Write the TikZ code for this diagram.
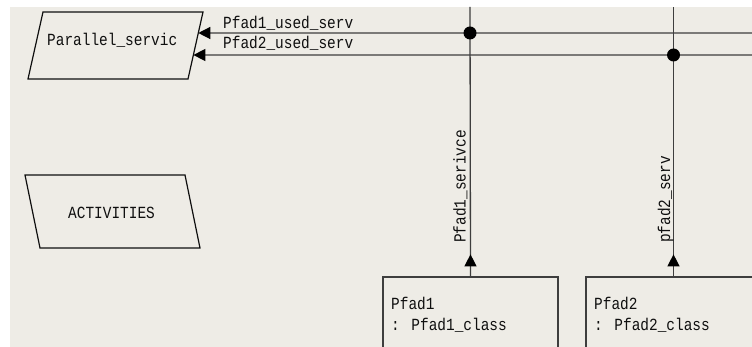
\documentclass[tikz,border=0pt]{standalone}
\usepackage{fontspec}
\newfontfamily\diafont[FakeStretch=0.85]{Liberation Mono}
\usetikzlibrary{calc,arrows.meta}
\definecolor{canvas}{RGB}{238,236,230}
\definecolor{wirecol}{RGB}{62,62,62}
\definecolor{ink}{RGB}{15,15,15}

\begin{document}
\begin{tikzpicture}[x=1pt,y=-1pt,
  lbl/.style={font=\diafont\fontsize{17}{21}\selectfont, text=ink, inner sep=0pt},
  wire/.style={draw=wirecol, line width=1.3pt},
  outline/.style={draw=ink, line width=1.2pt, line join=miter},
  headtip/.style={-{Triangle[length=12pt,width=12pt,color=black]}},
  junction/.style={fill=black},
  classbox/.style={draw=wirecol, line width=1.3pt, minimum width=175pt, minimum height=80pt, inner sep=0pt}
]
% page and canvas
\useasboundingbox (0,0) rectangle (752,347);
\fill[white] (0,0) rectangle (752,347);
\clip (0,0) rectangle (752,347);
\fill[canvas] (10,7) rectangle (752,347);

% Parallel_servic (parallelogram)
\coordinate (ps-tl) at (43,12);
\coordinate (ps-tr) at (203,12);
\coordinate (ps-br) at (188,79);
\coordinate (ps-bl) at (28,79);
\draw[outline] (ps-tl) -- (ps-tr) -- (ps-br) -- (ps-bl) -- cycle;
\node[lbl, anchor=base west] (ps) at (47,46) {Parallel\_servic};

% ACTIVITIES (parallelogram)
\coordinate (ac-tl) at (25,175);
\coordinate (ac-tr) at (185,175);
\coordinate (ac-br) at (200,248);
\coordinate (ac-bl) at (40,248);
\draw[outline] (ac-tl) -- (ac-tr) -- (ac-br) -- (ac-bl) -- cycle;
\node[lbl, anchor=base west] (ac) at (68,219) {ACTIVITIES};

% class instances
\node[classbox] (p1) at (470.5,317) {};
\node[classbox] (p2) at (673.5,317) {};
\node[lbl, anchor=base west] (p1name) at (391,309) {Pfad1};
\node[lbl, anchor=base west] (p1type) at (391,330) {: Pfad1\_class};
\node[lbl, anchor=base west] (p2name) at (594,309) {Pfad2};
\node[lbl, anchor=base west] (p2type) at (594,330) {: Pfad2\_class};

% connector end points
\coordinate (e1) at ($(ps-tr)!0.3134!(ps-br)$);
\coordinate (e2) at ($(ps-tr)!0.6418!(ps-br)$);
\coordinate (r1) at (752,33);
\coordinate (r2) at (752,55);
\coordinate (t1) at (470,7);
\coordinate (t2) at (673.5,7);
\coordinate (j1) at (470,33);
\coordinate (j2) at (673.5,55);

% horizontal flows into Parallel_servic
\draw[wire, headtip] (r1) -- (e1);
\draw[wire, headtip] (r2) -- (e2);
\node[lbl, anchor=base west] (l1) at (223,29) {Pfad1\_used\_serv};
\node[lbl, anchor=base west] (l2) at (223,49) {Pfad2\_used\_serv};

% vertical flows out of the class instances
\draw[wire] (p1.north) -- (t1);
\draw[wire] (p2.north) -- (t2);
\draw[wire, headtip] (p1.north) -- ++(0,-22);
\draw[wire, headtip] (p2.north) -- ++(0,-22);
\node[lbl, rotate=90, anchor=base west] (v1) at (465.5,243) {Pfad1\_serivce};
\node[lbl, rotate=90, anchor=base west] (v2) at (670,243) {pfad2\_serv};

% junction dots
\fill[junction] (j1) circle (6.5);
\fill[junction] (j2) circle (6.5);
\end{tikzpicture}
\end{document}
